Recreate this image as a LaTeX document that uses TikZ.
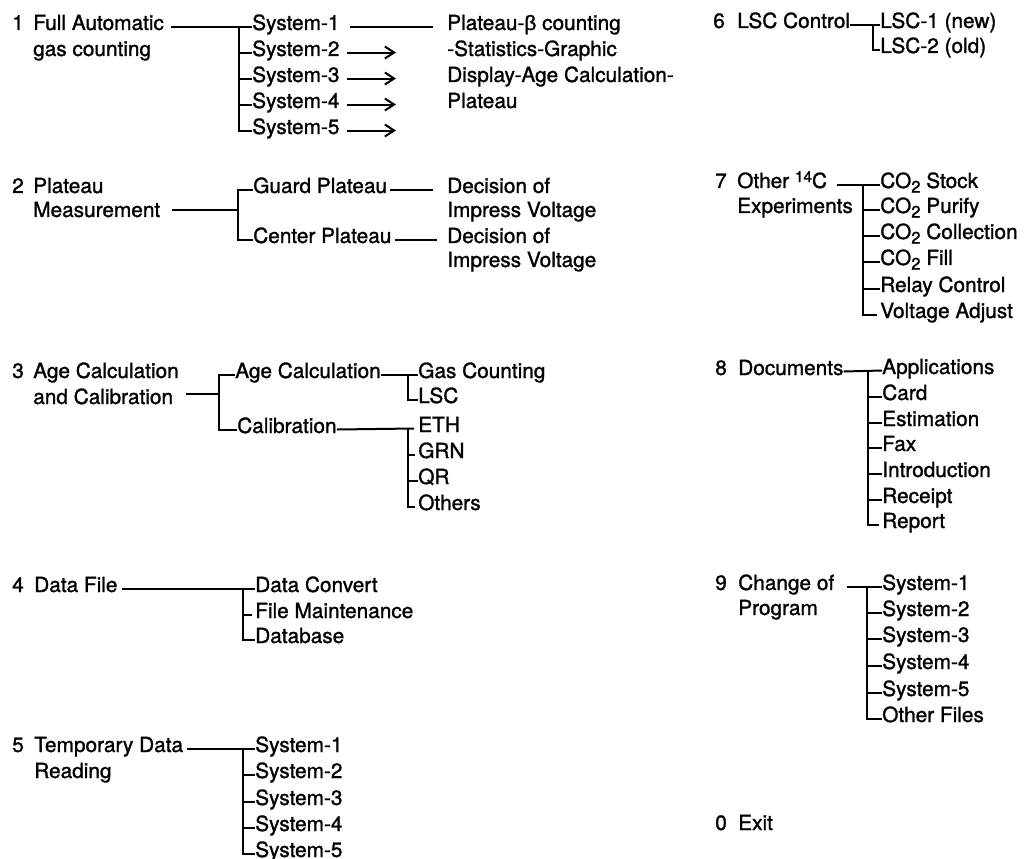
\documentclass[tikz,border=0pt]{standalone}
\usepackage{fontspec}
\setmainfont{TeX Gyre Heros}[FakeBold=1.3]
\newfontfamily\grk{Liberation Sans}[FakeBold=1.3]
\usetikzlibrary{calc,arrows.meta}
\newcommand{\lab}{\fontsize{15.6}{18}\selectfont}
\newcommand{\cotwo}{CO\raisebox{-0.42ex}{\fontsize{12.5}{12}\selectfont 2}}
\begin{document}
\begin{tikzpicture}[x=0.75pt,y=-0.75pt,
  lbl/.style={anchor=base west,inner sep=0pt,font=\lab},
  ln/.style={line width=1.5pt},
  arr/.style={line width=1.5pt,-{Straight Barb[length=7pt,width=9pt]}}]
\useasboundingbox (0,0) rectangle (1024,859);

% ---------- 1 ----------
\node[lbl] (n1) at (12,30) {1};
\node[lbl] (t1a) at (33,30) {Full Automatic};
\node[lbl] (t1b) at (33,56) {gas counting};
\foreach \i/\y in {1/30,2/56,3/82,4/108,5/134} \node[lbl] (s1\i) at (252,\y) {System-\i};
\node[lbl] (d1a) at (447,30) {Plateau-{\grk β} counting};
\node[lbl] (d1b) at (447,56) {-Statistics-Graphic};
\node[lbl] (d1c) at (447,82) {Display-Age Calculation-};
\node[lbl] (d1d) at (447,108) {Plateau};
\coordinate (k1) at (239,0);
\coordinate (tip1) at (396,0);
\draw[ln] ($(t1a.mid east)+(7,0)$) -- (s11.mid west);
\draw[ln] (k1 |- s11.mid west) -- (k1 |- s15.mid west) -- (s15.mid west);
\foreach \i in {2,3,4} \draw[ln] (k1 |- s1\i.mid west) -- (s1\i.mid west);
\draw[ln] ($(s11.mid east)+(10,0)$) -- ($(d1a.mid west)+(-14,0)$);
\foreach \i in {2,...,5} \draw[arr] ($(s1\i.mid east)+(7,0)$) -- (tip1 |- s1\i.mid east);

% ---------- 2 ----------
\node[lbl] (n2) at (12,193) {2};
\node[lbl] (t2a) at (33,193) {Plateau};
\node[lbl] (t2b) at (33,217) {Measurement};
\node[lbl] (g2) at (253,193) {Guard Plateau};
\node[lbl] (c2) at (253,243) {Center Plateau};
\node[lbl] (d2a) at (447,193) {Decision of};
\node[lbl] (d2b) at (447,217) {Impress Voltage};
\node[lbl] (d2c) at (447,243) {Decision of};
\node[lbl] (d2d) at (447,267) {Impress Voltage};
\coordinate (k2) at (238,0);
\coordinate (m2) at ($(t2b.mid east)+(12,-4)$);
\draw[ln] (m2) -- (k2 |- m2);
\draw[ln] (g2.mid west) -- (k2 |- g2.mid west) -- (k2 |- c2.mid west) -- (c2.mid west);
\draw[ln] ($(g2.mid east)+(3,0)$) -- ($(d2a.mid west)+(-14,0)$);
\draw[ln] ($(c2.mid east)+(3,0)$) -- ($(d2c.mid west)+(-10,0)$);

% ---------- 3 ----------
\node[lbl] (n3) at (12,378) {3};
\node[lbl] (t3a) at (33,378) {Age Calculation};
\node[lbl] (t3b) at (33,404) {and Calibration};
\node[lbl] (a3) at (235,378) {Age Calculation};
\node[lbl] (c3) at (237,433) {Calibration};
\node[lbl] (g3) at (418,378) {Gas Counting};
\node[lbl] (l3) at (418,403) {LSC};
\node[lbl] (e3) at (418,432) {ETH};
\node[lbl] (r3) at (418,458) {GRN};
\node[lbl] (q3) at (418,484) {QR};
\node[lbl] (o3) at (418,510) {Others};
\coordinate (k3) at (219,0);
\coordinate (k3b) at (408,0);
\coordinate (m3) at ($(t3b.mid east)+(13,-7)$);
\draw[ln] (m3) -- (k3 |- m3);
\draw[ln] (a3.mid west) -- (k3 |- a3.mid west) -- (k3 |- c3.mid west) -- (c3.mid west);
\draw[ln] (a3.mid east) -- (g3.mid west);
\draw[ln] (k3b |- g3.mid west) -- (k3b |- l3.mid west) -- (l3.mid west);
\draw[ln] (c3.mid east) -- ($(e3.mid west)+(-4,0)$);
\draw[ln] (k3b |- e3.mid west) -- (k3b |- o3.mid west) -- ($(o3.mid west)+(-3,0)$);
\draw[ln] (k3b |- r3.mid west) -- ($(r3.mid west)+(-3,0)$);
\draw[ln] (k3b |- q3.mid west) -- (q3.mid west);

% ---------- 4 ----------
\node[lbl] (n4) at (12,592) {4};
\node[lbl] (t4) at (34,592) {Data File};
\node[lbl] (dc4) at (255,592) {Data Convert};
\node[lbl] (fm4) at (255,618) {File Maintenance};
\node[lbl] (db4) at (255,643) {Database};
\coordinate (k4) at (243,0);
\draw[ln] ($(t4.mid east)+(4,0)$) -- (dc4.mid west);
\draw[ln] (k4 |- dc4.mid west) -- (k4 |- db4.mid west) -- (db4.mid west);
\draw[ln] (k4 |- fm4.mid west) -- ($(fm4.mid west)+(-3,0)$);

% ---------- 5 ----------
\node[lbl] (n5) at (12,752) {5};
\node[lbl] (t5a) at (34,752) {Temporary Data};
\node[lbl] (t5b) at (34,778) {Reading};
\foreach \i/\y in {1/752,2/778,3/805,4/831,5/857} \node[lbl] (s5\i) at (255,\y) {System-\i};
\coordinate (k5) at (243,0);
\draw[ln] ($(t5a.mid east)+(4,0)$) -- (s51.mid west);
\draw[ln] (k5 |- s51.mid west) -- (k5 |- s55.mid west) -- (s55.mid west);
\foreach \i in {2,3,4} \draw[ln] (k5 |- s5\i.mid west) -- (s5\i.mid west);

% ---------- 6 ----------
\node[lbl] (n6) at (713,28) {6};
\node[lbl] (t6) at (737,28) {LSC Control};
\node[lbl] (l61) at (880,28) {LSC-1 (new)};
\node[lbl] (l62) at (880,53) {LSC-2 (old)};
\coordinate (k6) at (873,0);
\draw[ln] (t6.mid east) -- (l61.mid west);
\draw[ln] (k6 |- l61.mid west) -- (k6 |- l62.mid west) -- (l62.mid west);

% ---------- 7 ----------
\node[lbl] (n7) at (715,188) {7};
\node[lbl] (t7a) at (737,188) {Other \raisebox{0.55ex}{\fontsize{11.5}{12}\selectfont 14}C};
\node[lbl] (t7b) at (737,213) {Experiments};
\node[lbl] (i71) at (880,188) {\cotwo{} Stock};
\node[lbl] (i72) at (880,213) {\cotwo{} Purify};
\node[lbl] (i73) at (880,239) {\cotwo{} Collection};
\node[lbl] (i74) at (880,265) {\cotwo{} Fill};
\node[lbl] (i75) at (880,292) {Relay Control};
\node[lbl] (i76) at (880,318) {Voltage Adjust};
\coordinate (k7) at (863,0);
\draw[ln] ($(t7a.mid east)+(10,0)$) -- (i71.mid west);
\draw[ln] (k7 |- i71.mid west) -- (k7 |- i76.mid west) -- ($(i76.mid west)+(-3,0)$);
\foreach \i in {2,...,5} \draw[ln] (k7 |- i7\i.mid west) -- (i7\i.mid west);

% ---------- 8 ----------
\node[lbl] (n8) at (715,375) {8};
\node[lbl] (t8) at (738,375) {Documents};
\node[lbl] (i81) at (882,374) {Applications};
\node[lbl] (i82) at (882,400) {Card};
\node[lbl] (i83) at (882,426) {Estimation};
\node[lbl] (i84) at (882,451) {Fax};
\node[lbl] (i85) at (882,477) {Introduction};
\node[lbl] (i86) at (882,503) {Receipt};
\node[lbl] (i87) at (882,528) {Report};
\coordinate (k8) at (868,0);
\draw[ln] (t8.mid east) -- (i81.mid west);
\draw[ln] (k8 |- i81.mid west) -- (k8 |- i87.mid west) -- ($(i87.mid west)+(-3,0)$);
\foreach \i in {2,...,6} \draw[ln] (k8 |- i8\i.mid west) -- (i8\i.mid west);

% ---------- 9 ----------
\node[lbl] (n9) at (715,590) {9};
\node[lbl] (t9a) at (738,590) {Change of};
\node[lbl] (t9b) at (738,615) {Program};
\foreach \i/\y in {1/590,2/616,3/642,4/669,5/696} \node[lbl] (i9\i) at (882,\y) {System-\i};
\node[lbl] (i96) at (882,722) {Other Files};
\coordinate (k9) at (867,0);
\draw[ln] ($(t9a.mid east)+(12,0)$) -- (i91.mid west);
\draw[ln] (k9 |- i91.mid west) -- (k9 |- i96.mid west) -- (i96.mid west);
\foreach \i in {2,...,5} \draw[ln] (k9 |- i9\i.mid west) -- (i9\i.mid west);

% ---------- 0 ----------
\node[lbl] (n0) at (715,830) {0};
\node[lbl] (t0) at (738,830) {Exit};
\end{tikzpicture}
\end{document}
